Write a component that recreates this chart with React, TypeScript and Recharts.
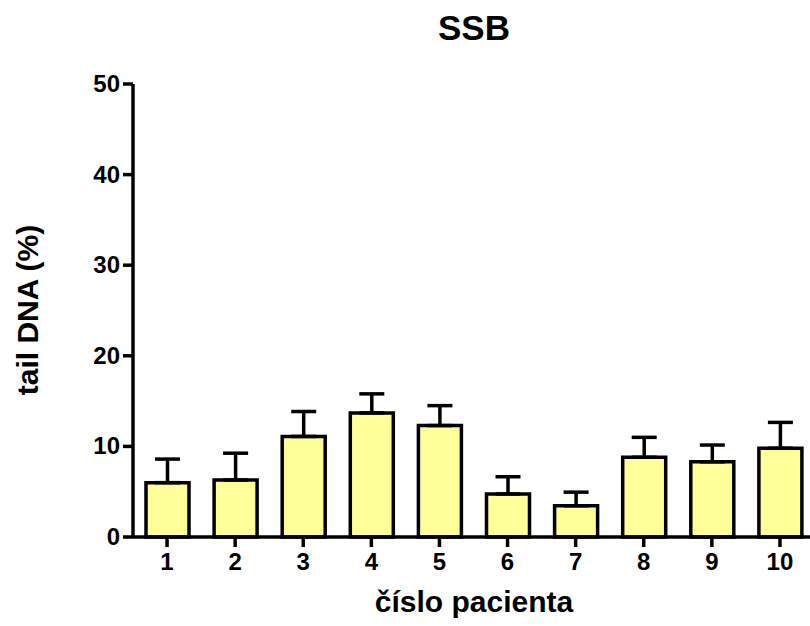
import { Bar, BarChart, ErrorBar, Label, XAxis, YAxis } from "recharts";

const patients = ["1", "2", "3", "4", "5", "6", "7", "8", "9", "10"];
const tailDna = [6.0, 6.3, 11.1, 13.7, 12.3, 4.75, 3.45, 8.8, 8.3, 9.8];
const sem = [2.6, 2.95, 2.75, 2.1, 2.2, 1.9, 1.5, 2.2, 1.85, 2.85];
const yTicks = [0, 10, 20, 30, 40, 50];

const data = patients.map((p, i) => ({
  patient: p,
  value: tailDna[i],
  err: [0, sem[i]],
}));

const font = "'Liberation Sans', Arial, sans-serif";
const line = { stroke: "#000", strokeWidth: 3.5 };

const XTick = (props: any) => (
  <text
    x={props.x}
    y={props.y + 21}
    textAnchor="middle"
    fontFamily={font}
    fontWeight="bold"
    fontSize={24}
    fill="#000"
  >
    {props.payload.value}
  </text>
);

const YTick = (props: any) => (
  <text
    x={props.x}
    y={props.y + 8}
    textAnchor="end"
    fontFamily={font}
    fontWeight="bold"
    fontSize={24}
    fill="#000"
  >
    {props.payload.value}
  </text>
);

export default function App() {
  return (
    <div
      style={{
        position: "absolute",
        left: 0,
        top: 0,
        width: 810,
        height: 626,
        overflow: "hidden",
        background: "#fff",
      }}
    >
      <div
        style={{
          position: "absolute",
          left: 0,
          width: 948,
          top: 8,
          textAlign: "center",
          fontFamily: font,
          fontWeight: "bold",
          fontSize: 35,
          lineHeight: "40px",
        }}
      >
        SSB
      </div>
      <BarChart
        width={816}
        height={626}
        data={data}
        margin={{ top: 84, right: 2, bottom: 0, left: 0 }}
        barSize={43}
      >
        <XAxis
          dataKey="patient"
          height={89}
          tick={XTick}
          tickSize={10}
          tickMargin={2}
          axisLine={line}
          tickLine={line}
        >
          <Label
            content={() => (
              <text
                x={474}
                y={612}
                textAnchor="middle"
                fontFamily={font}
                fontWeight="bold"
                fontSize={30}
                fill="#000"
              >
                číslo pacienta
              </text>
            )}
          />
        </XAxis>
        <YAxis
          width={133}
          domain={[0, 50]}
          ticks={yTicks}
          tick={YTick}
          tickSize={10}
          tickMargin={3}
          axisLine={line}
          tickLine={line}
        >
          <Label
            content={() => (
              <text
                x={27}
                y={310}
                transform="rotate(-90, 27, 310)"
                textAnchor="middle"
                dominantBaseline="central"
                fontFamily={font}
                fontWeight="bold"
                fontSize={30}
                fill="#000"
              >
                tail DNA (%)
              </text>
            )}
          />
        </YAxis>
        <Bar
          dataKey="value"
          fill="#ffff99"
          stroke="#000"
          strokeWidth={3.5}
          isAnimationActive={false}
        >
          <ErrorBar
            dataKey="err"
            width={12.5}
            stroke="#000"
            strokeWidth={3.5}
            isAnimationActive={false}
          />
        </Bar>
      </BarChart>
    </div>
  );
}
